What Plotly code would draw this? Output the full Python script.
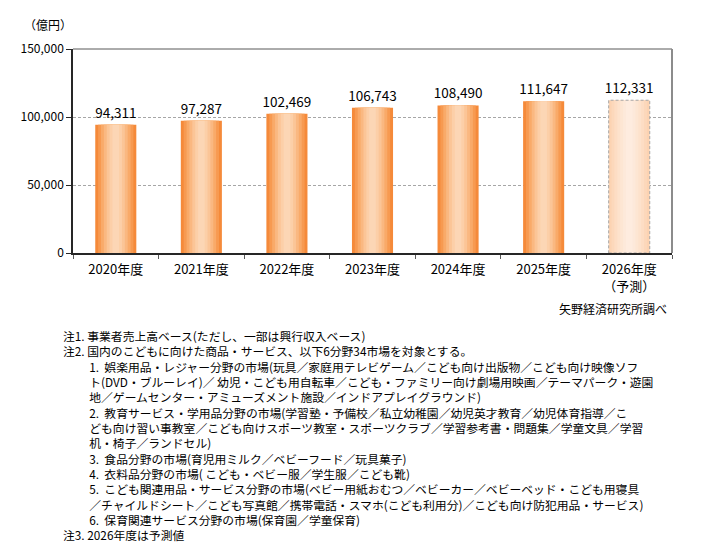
import plotly.graph_objects as go

years = ["2020年度", "2021年度", "2022年度", "2023年度", "2024年度", "2025年度", "2026年度<br>（予測）"]
sales = [94311, 97287, 102469, 106743, 108490, 111647, 112331]
forecast = [False, False, False, False, False, False, True]

y_ticks = [0, 50000, 100000, 150000]

IND = "\u3000\u3000\u00a0"
notes = [
    "注1. 事業者売上高ベース(ただし、一部は興行収入ベース)",
    "注2. 国内のこどもに向けた商品・サービス、以下6分野34市場を対象とする。",
    IND + "1.\u00a0\u00a0娯楽用品・レジャー分野の市場(玩具／家庭用テレビゲーム／こども向け出版物／こども向け映像ソフ",
    IND + "ト(DVD・ブルーレイ)／ 幼児・こども用自転車／こども・ファミリー向け劇場用映画／テーマパーク・遊園",
    IND + "地／ゲームセンター・アミューズメント施設／インドアプレイグラウンド)",
    IND + "2.\u00a0\u00a0教育サービス・学用品分野の市場(学習塾・予備校／私立幼稚園／幼児英才教育／幼児体育指導／こ",
    IND + "ども向け習い事教室／こども向けスポーツ教室・スポーツクラブ／学習参考書・問題集／学童文具／学習",
    IND + "机・椅子／ランドセル)",
    IND + "3.\u00a0\u00a0食品分野の市場(育児用ミルク／ベビーフード／玩具菓子)",
    IND + "4.\u00a0\u00a0衣料品分野の市場(\u00a0こども・ベビー服／学生服／こども靴)",
    IND + "5.\u00a0\u00a0こども関連用品・サービス分野の市場(ベビー用紙おむつ／ベビーカー／ベビーベッド・こども用寝具",
    IND + "／チャイルドシート／こども写真館／携帯電話・スマホ(こども利用分)／こども向け防犯用品・サービス)",
    IND + "6.\u00a0\u00a0保育関連サービス分野の市場(保育園／学童保育)",
    "注3. 2026年度は予測値",
]

FONT = "Noto Sans CJK JP, Meiryo, sans-serif"
W, H = 701, 550
L, R, T, B = 73, 29, 49, 297
PW, PH = W - L - R, H - T - B


def px_x(p):
    return (p - L) / PW


def px_y(p):
    return (H - B - p) / PH


BAR_W = 0.48
# horizontal gradient imitation: stacked narrower bars, lighter toward centre
layer_frac = [1.0, 0.86, 0.72, 0.58, 0.44, 0.3, 0.16]
main_cols = ["#F58A3A", "#F79A51", "#F9AA69", "#FAB881", "#FBC597", "#FCCFA8", "#FCD6B5"]
fc_cols = ["#FCD3B2", "#FCD8BB", "#FDDDC4", "#FDE2CC", "#FDE6D3", "#FDE9DA", "#FEECDF"]

fig = go.Figure()
for i, f in enumerate(layer_frac):
    cols = [fc_cols[i] if fc else main_cols[i] for fc in forecast]
    fig.add_trace(go.Bar(
        x=years, y=sales, width=BAR_W * f,
        marker=dict(color=cols, line=dict(width=0)),
        text=[f"{v:,}" for v in sales] if i == 0 else None,
        textposition="outside" if i == 0 else "none",
        constraintext="none",
        textfont=dict(size=13.5, color="#000000", family=FONT),
        cliponaxis=False,
        hoverinfo="skip",
        showlegend=False,
    ))

# dashed outline for the forecast bar
for idx, fc in enumerate(forecast):
    if fc:
        fig.add_shape(type="rect", xref="x", yref="y",
                      x0=idx - BAR_W / 2, x1=idx + BAR_W / 2, y0=0, y1=sales[idx],
                      line=dict(color="#A6A6A6", width=1, dash="3px,2px"), layer="above")

# frame top / right
fig.add_shape(type="line", xref="paper", yref="paper", x0=0, x1=1, y0=1, y1=1,
              line=dict(color="#595959", width=1))
fig.add_shape(type="line", xref="paper", yref="paper", x0=1, x1=1, y0=0, y1=1,
              line=dict(color="#8C8C8C", width=2))

ann = [
    dict(text="（億円）", x=px_x(22), y=px_y(25), xanchor="left", yanchor="middle",
         font=dict(size=12, color="#000000", family=FONT)),
    dict(text="矢野経済研究所調べ", x=px_x(669), y=px_y(308), xanchor="right", yanchor="middle",
         font=dict(size=12, color="#000000", family=FONT)),
    dict(text="<br>".join(notes), x=px_x(61), y=px_y(325), xanchor="left", yanchor="top",
         align="left", font=dict(size=11.8, color="#000000", family=FONT)),
]
for a in ann:
    a.update(xref="paper", yref="paper", showarrow=False)

fig.update_layout(
    width=W, height=H,
    margin=dict(l=L, r=R, t=T, b=B),
    barmode="overlay",
    plot_bgcolor="#FFFFFF", paper_bgcolor="#FFFFFF",
    font=dict(family=FONT, color="#000000"),
    annotations=ann,
    xaxis=dict(
        showline=True, linecolor="#262626", linewidth=1.5,
        ticks="outside", tickson="boundaries", ticklen=4, tickcolor="#595959",
        tickfont=dict(size=13, color="#000000"), ticklabelstandoff=4,
        showgrid=False,
    ),
    yaxis=dict(
        range=[0, 150000], tickvals=y_ticks, tickformat=",",
        showline=True, linecolor="#262626", linewidth=1.5,
        ticks="outside", ticklen=5, tickcolor="#262626",
        tickfont=dict(size=12, color="#000000"),
        showgrid=True, gridcolor="#A6A6A6", griddash="3px,2px", gridwidth=1,
        zeroline=False,
    ),
)

fig.write_html("out.html", config={"displayModeBar": False},
               post_script="document.body.style.margin='0';")
